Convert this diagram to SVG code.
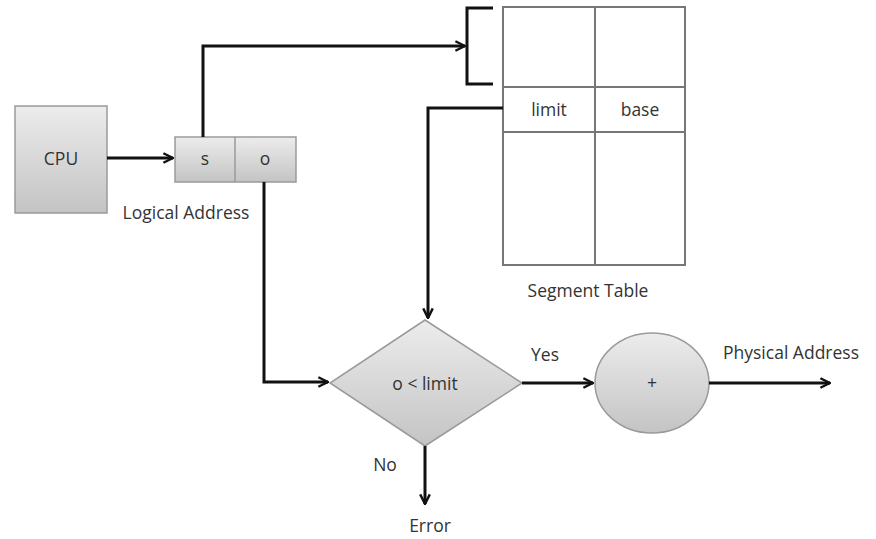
<svg xmlns="http://www.w3.org/2000/svg" width="876" height="539" viewBox="0 0 876 539">
<style>
text{font-family:"Open Sans","Liberation Sans",Arial,sans-serif;font-size:17.5px;fill:#333;text-anchor:middle}
.conn{fill:none;stroke:#111;stroke-width:3}
.shape{fill:url(#g);stroke:#9a9a9a;stroke-width:1.5}
.tbl{fill:#fff;stroke:#777;stroke-width:2}
</style>
<defs>
<linearGradient id="g" x1="0" y1="0" x2="0" y2="1"><stop offset="0" stop-color="#ececec"/><stop offset="1" stop-color="#c4c4c4"/></linearGradient>
<marker id="a" viewBox="0 0 10 10" refX="9" refY="5" markerWidth="4" markerHeight="4" orient="auto" markerUnits="strokeWidth"><path d="M1,1 L9,5 L1,9" fill="none" stroke="#111" stroke-width="2"/></marker>
</defs>
<g id="cpu"><rect class="shape" x="15" y="106" width="92" height="107"/><text x="61" y="165">CPU</text></g>
<g id="logical-address"><rect class="shape" x="175" y="137" width="121" height="45"/><line x1="235" y1="137" x2="235" y2="182" stroke="#9a9a9a" stroke-width="1.5"/><text x="205" y="165">s</text><text x="265" y="165">o</text><text x="186" y="219">Logical Address</text></g>
<g id="segment-table">
<path d="M493,8 H467 V84 H493" fill="none" stroke="#111" stroke-width="3"/>
<rect class="tbl" x="503" y="7" width="182" height="258"/>
<line class="tbl" x1="595" y1="7" x2="595" y2="265"/>
<line class="tbl" x1="503" y1="87" x2="685" y2="87"/>
<line class="tbl" x1="503" y1="132" x2="685" y2="132"/>
<text x="549" y="116">limit</text><text x="640" y="116">base</text>
<text x="588" y="297">Segment Table</text></g>
<g id="decision"><polygon class="shape" points="425,320 522,383 425,446 330,383"/><text x="425" y="390">o &lt; limit</text></g>
<g id="adder"><ellipse class="shape" cx="652" cy="383" rx="57" ry="50"/><text x="652" y="389">+</text></g>
<g id="labels"><text x="545" y="361">Yes</text><text x="385" y="471">No</text><text x="430" y="532">Error</text><text x="791" y="359">Physical Address</text></g>
<g id="connectors">
<line class="conn" x1="107" y1="158" x2="173" y2="158" marker-end="url(#a)"/>
<polyline class="conn" points="203,137 203,46 465,46" marker-end="url(#a)"/>
<polyline class="conn" points="503,108 428,108 428,318" marker-end="url(#a)"/>
<polyline class="conn" points="264,182 264,382 328,382" marker-end="url(#a)"/>
<line class="conn" x1="522" y1="383" x2="593" y2="383" marker-end="url(#a)"/>
<line class="conn" x1="709" y1="383" x2="830" y2="383" marker-end="url(#a)"/>
<line class="conn" x1="425" y1="446" x2="425" y2="504" marker-end="url(#a)"/>
</g>
</svg>
